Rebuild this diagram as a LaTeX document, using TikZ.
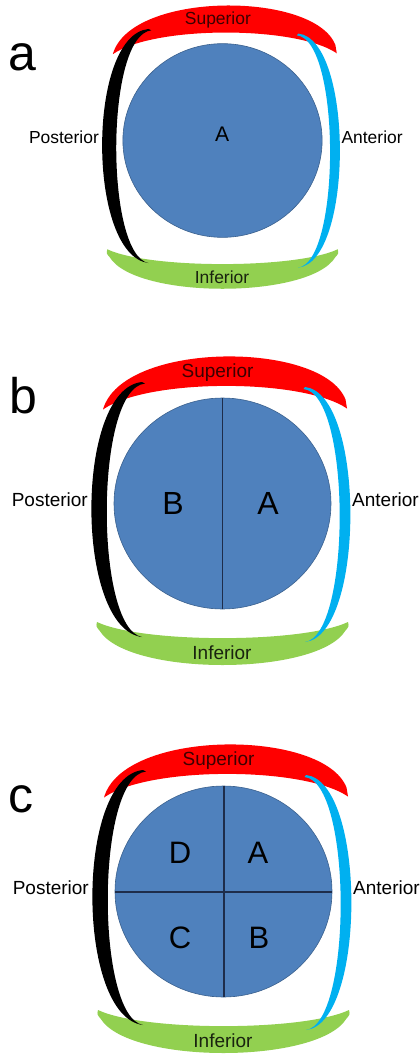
\documentclass[tikz,border=0pt]{standalone}
\usepackage{fontspec}
\setmainfont{Liberation Sans}
\definecolor{cblue}{RGB}{79,129,189}
\definecolor{cred}{RGB}{255,0,0}
\definecolor{cgreen}{RGB}{146,208,80}
\definecolor{ccyan}{RGB}{0,176,240}
\definecolor{cline}{RGB}{30,45,75}
\definecolor{suptext}{RGB}{60,0,0}
\definecolor{inftext}{RGB}{25,35,15}
\tikzset{
  lbl/.style={inner sep=0pt, font=\fontsize{19}{19}\selectfont},
  quad/.style={inner sep=0pt, anchor=base},
  panellbl/.style={inner sep=0pt, anchor=base west, font=\fontsize{50}{50}\selectfont},
  divline/.style={draw=cline, line width=1.3pt},
  disc/.style={fill=cblue, draw=cblue!75!black, line width=0.6pt},
}
\newcommand{\drawpanel}[1]{%
  % superior (red)
  \fill[cred] (-119.5,-94) .. controls (-100,-163) and (100,-163) .. (123,-104)
     -- (124.5,-95) .. controls (80,-125.3) and (-75,-125.3) .. (-119.5,-94) -- cycle;
  % inferior (green)
  \fill[cgreen] (-125.5,118.5) .. controls (-80,140) and (80,140) .. (125.5,118.5)
     .. controls (126.5,123) .. (123,127) .. controls (95,173) and (-95,173) .. (-123,127)
     .. controls (-126.5,123) .. (-125.5,118.5) -- cycle;
  % posterior (black)
  \fill[black] (-80.5,-121.5) .. controls (-148,-115) and (-148,125) .. (-80.5,133.5)
     .. controls (-128,125) and (-128,-115) .. (-77.5,-120) -- cycle;
  % anterior (cyan)
  \fill[ccyan] (82.5,-116.5) .. controls (143,-110) and (143,132) .. (82.5,138.5)
     .. controls (129,132) and (129,-110) .. (81,-114.5) -- cycle;
  % disc
  \path[disc] (0,0) ellipse [x radius=108.5, y radius=105.5];
  \coordinate (#1c) at (0,0);
  % labels
  \node[lbl, anchor=base, text=suptext] (#1sup) at (-5,-126.5) {Superior};
  \node[lbl, anchor=base, text=inftext] (#1inf) at (-0.5,156.3) {Inferior};
  \node[lbl, anchor=base east] (#1post) at (-134.5,3.3) {Posterior};
  \node[lbl, anchor=base west] (#1ant) at (129.5,3.3) {Anterior};
}
\begin{document}
\begin{tikzpicture}[x=1pt, y=-1pt]
\useasboundingbox (0,0) rectangle (420,1055);
\fill[white] (0,0) rectangle (420,1055);

% panel a
\begin{scope}[shift={(222.5,140.5)}, scale=0.918, every node/.append style={transform shape}]
  \drawpanel{a}
  \node[quad, font=\fontsize{23}{23}\selectfont] (aA) at (-0.5,1.5) {A};
\end{scope}
\node[panellbl] (la) at (8,70) {a};

% panel b
\begin{scope}[shift={(222.5,503.5)}]
  \drawpanel{b}
  \draw[divline] (0,-105.5) -- (0,105.5);
  \node[quad, font=\fontsize{32}{32}\selectfont] (bB) at (-49.5,11) {B};
  \node[quad, font=\fontsize{32}{32}\selectfont] (bA) at (45.5,11) {A};
\end{scope}
\node[panellbl] (lb) at (9,413) {b};

% panel c
\begin{scope}[shift={(223.5,891.5)}]
  \drawpanel{c}
  \draw[divline] (0.5,-105.5) -- (0.5,105.5);
  \draw[divline] (-108.5,0.5) -- (108.5,0.5);
  \node[quad, font=\fontsize{31}{31}\selectfont] (cD) at (-43.5,-28.4) {D};
  \node[quad, font=\fontsize{31}{31}\selectfont] (cA) at (34.5,-28.4) {A};
  \node[quad, font=\fontsize{31}{31}\selectfont] (cC) at (-43.5,56.6) {C};
  \node[quad, font=\fontsize{31}{31}\selectfont] (cB) at (35.5,56.6) {B};
\end{scope}
\node[panellbl] (lc) at (8,812) {c};
\end{tikzpicture}
\end{document}
